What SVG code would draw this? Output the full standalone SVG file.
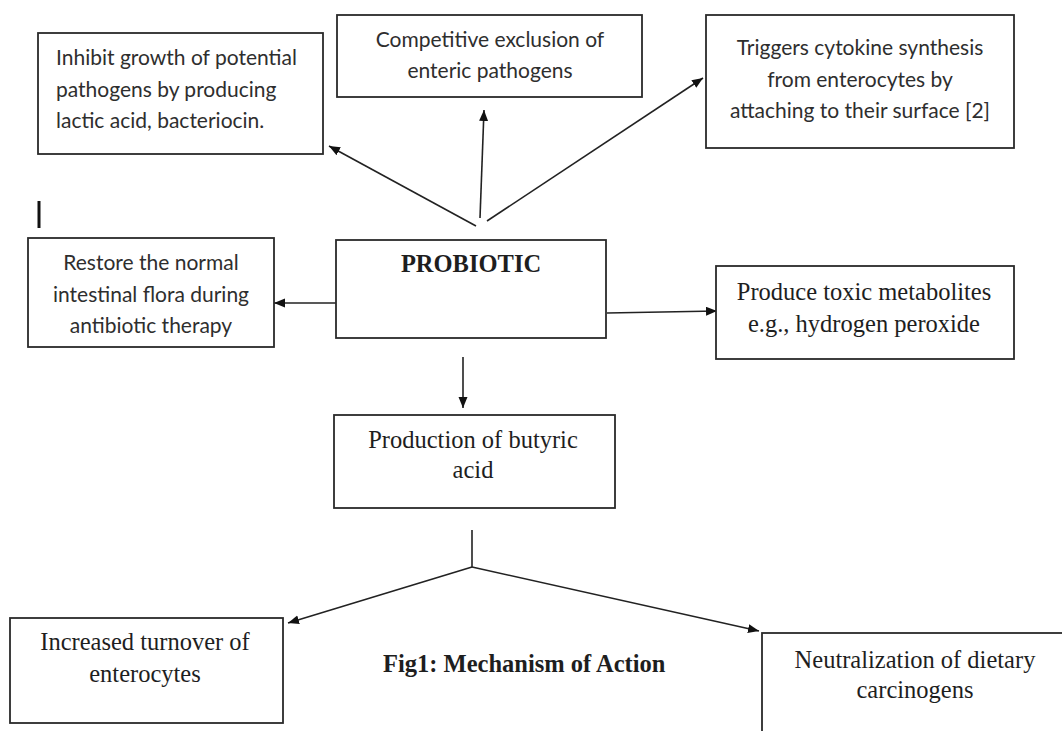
<svg xmlns="http://www.w3.org/2000/svg" width="1062" height="731" viewBox="0 0 1062 731">
<style>
.box{fill:#fff;stroke:#2a2a2a;stroke-width:1.8}
.sans{font-family:Lato,"Liberation Sans",sans-serif;font-size:21px;fill:#2e2e2e}
.serif{font-family:"Liberation Serif","Times New Roman",serif;font-size:24.5px;fill:#1e1e1e}
.bold{font-weight:bold}
.c{text-anchor:middle}
.ln{stroke:#222;stroke-width:1.6;fill:none}
.arr{marker-end:url(#ah)}
</style>
<defs>
<marker id="ah" markerUnits="userSpaceOnUse" markerWidth="12" markerHeight="10" refX="11" refY="4.5" orient="auto">
<path d="M0,0 L11,4.5 L0,9 z" fill="#111"/>
</marker>
</defs>
<rect width="1062" height="731" fill="#fff"/>
<g id="connectors">
<line class="ln arr" x1="476" y1="226" x2="329" y2="146"/>
<line class="ln arr" x1="480" y1="218" x2="484" y2="110"/>
<line class="ln arr" x1="487" y1="221" x2="703" y2="78"/>
<line class="ln arr" x1="336" y1="303" x2="274" y2="303"/>
<line class="ln arr" x1="607" y1="313" x2="717" y2="311"/>
<line class="ln arr" x1="463" y1="357" x2="463" y2="408"/>
<polyline class="ln" points="472,530 472,567"/>
<line class="ln arr" x1="472" y1="567" x2="288" y2="623"/>
<line class="ln arr" x1="472" y1="567" x2="759" y2="631"/>
</g>
<line x1="39" y1="201" x2="39" y2="228" stroke="#111" stroke-width="3"/>
<g id="inhibit">
<rect class="box" x="38" y="33" width="285" height="121"/>
<text class="sans" x="56" y="65">Inhibit growth of potential</text>
<text class="sans" x="56" y="97">pathogens by producing</text>
<text class="sans" x="56" y="128">lactic acid, bacteriocin.</text>
</g>
<g id="competitive">
<rect class="box" x="337" y="15" width="305" height="82"/>
<text class="sans c" x="490" y="47">Competitive exclusion of</text>
<text class="sans c" x="490" y="78">enteric pathogens</text>
</g>
<g id="triggers">
<rect class="box" x="706" y="15" width="308" height="133"/>
<text class="sans c" x="860" y="55">Triggers cytokine synthesis</text>
<text class="sans c" x="860" y="87">from enterocytes by</text>
<text class="sans c" x="860" y="118">attaching to their surface [2]</text>
</g>
<g id="restore">
<rect class="box" x="28" y="238" width="246" height="109"/>
<text class="sans c" x="151" y="270">Restore the normal</text>
<text class="sans c" x="151" y="302">intestinal flora during</text>
<text class="sans c" x="151" y="333">antibiotic therapy</text>
</g>
<g id="probiotic">
<rect class="box" x="336" y="240" width="270" height="98"/>
<text class="serif bold c" x="471" y="272">PROBIOTIC</text>
</g>
<g id="toxic">
<rect class="box" x="716" y="266" width="298" height="93"/>
<text class="serif c" x="864" y="300">Produce toxic metabolites</text>
<text class="serif c" x="864" y="332">e.g., hydrogen peroxide</text>
</g>
<g id="butyric">
<rect class="box" x="334" y="415" width="281" height="93"/>
<text class="serif c" x="473" y="448">Production of butyric</text>
<text class="serif c" x="473" y="478">acid</text>
</g>
<g id="turnover">
<rect class="box" x="10" y="618" width="273" height="105"/>
<text class="serif c" x="145" y="650">Increased turnover of</text>
<text class="serif c" x="145" y="682">enterocytes</text>
</g>
<g id="neutralization">
<rect class="box" x="762" y="633" width="310" height="110"/>
<text class="serif c" x="915" y="668">Neutralization of dietary</text>
<text class="serif c" x="915" y="698">carcinogens</text>
</g>
<text class="serif bold" x="383" y="672" font-size="25">Fig1: Mechanism of Action</text>
</svg>
